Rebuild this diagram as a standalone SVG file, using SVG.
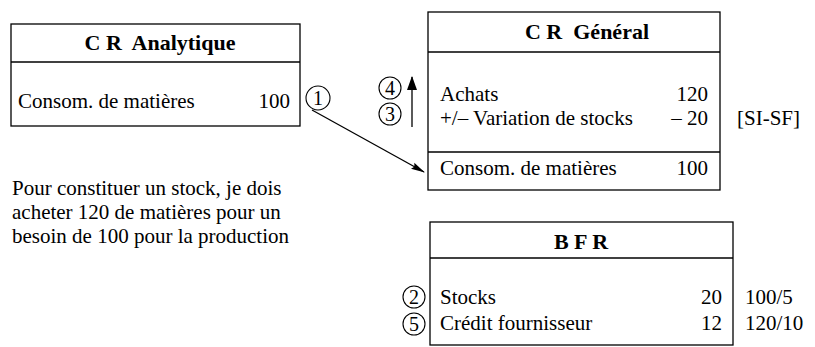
<svg xmlns="http://www.w3.org/2000/svg" width="815" height="347" viewBox="0 0 815 347">
  <style>
    text { font-family: "Liberation Serif", "Times New Roman", serif; fill: #000; }
    .t { font-size: 21px; }
    .p { font-size: 21px; }
    .h { font-size: 22px; font-weight: bold; text-anchor: middle; }
    .n { font-size: 21px; text-anchor: end; }
    .c { font-size: 20px; text-anchor: middle; }
    .box { fill: none; stroke: #000; stroke-width: 1.3; }
    .ring { fill: #fff; stroke: #000; stroke-width: 1.1; }
    .link { fill: none; stroke: #000; stroke-width: 1.3; }
  </style>
  <defs>
    <marker id="head" viewBox="0 0 14 8" refX="13" refY="4" markerWidth="14" markerHeight="8" markerUnits="userSpaceOnUse" orient="auto">
      <path d="M0,0.5 L14,4 L0,7.5 L2,4 Z" fill="#000"/>
    </marker>
    <marker id="headUp" viewBox="0 0 14 10" refX="13" refY="5" markerWidth="14" markerHeight="10" markerUnits="userSpaceOnUse" orient="auto">
      <path d="M0,0 L14,5 L0,10 Z" fill="#000"/>
    </marker>
  </defs>
  <rect width="815" height="347" fill="#fff"/>

  <!-- Analytical income statement -->
  <g id="cr-analytique">
    <rect class="box" x="11" y="24" width="289" height="102"/>
    <line class="box" x1="11" y1="62" x2="300" y2="62"/>
    <text class="h" x="160" y="50" xml:space="preserve">C R  Analytique</text>
    <text class="t" x="18" y="108">Consom. de matières</text>
    <text class="n" x="290" y="108">100</text>
  </g>

  <!-- General income statement -->
  <g id="cr-general">
    <rect class="box" x="428" y="12" width="292" height="178"/>
    <line class="box" x1="428" y1="52" x2="720" y2="52"/>
    <line class="box" x1="428" y1="152" x2="720" y2="152"/>
    <text class="h" x="587" y="39" xml:space="preserve">C R  Général</text>
    <text class="t" x="440" y="101">Achats</text>
    <text class="n" x="708" y="101">120</text>
    <text class="t" x="440" y="125">+/– Variation de stocks</text>
    <text class="n" x="708" y="125">– 20</text>
    <text class="t" x="737" y="125">[SI-SF]</text>
    <text class="t" x="440" y="175">Consom. de matières</text>
    <text class="n" x="708" y="175">100</text>
  </g>

  <!-- Working capital requirement -->
  <g id="bfr">
    <rect class="box" x="430" y="222" width="303" height="123"/>
    <line class="box" x1="430" y1="258" x2="733" y2="258"/>
    <text class="h" x="581" y="249">B F R</text>
    <text class="t" x="440" y="304">Stocks</text>
    <text class="n" x="722" y="304">20</text>
    <text class="t" x="745" y="304">100/5</text>
    <text class="t" x="440" y="330">Crédit fournisseur</text>
    <text class="n" x="722" y="330">12</text>
    <text class="t" x="745" y="330">120/10</text>
  </g>

  <!-- Explanation -->
  <g id="note">
    <text class="p" x="12" y="195">Pour constituer un stock, je dois</text>
    <text class="p" x="12" y="219">acheter 120 de matières pour un</text>
    <text class="p" x="12" y="243">besoin de 100 pour la production</text>
  </g>

  <!-- Step markers -->
  <g id="steps">
    <circle class="ring" cx="318" cy="98" r="12"/>
    <text class="c" x="318" y="105">1</text>
    <circle class="ring" cx="390" cy="88" r="11"/>
    <text class="c" x="390" y="95">4</text>
    <circle class="ring" cx="390" cy="114" r="11"/>
    <text class="c" x="390" y="121">3</text>
    <circle class="ring" cx="414" cy="297" r="11"/>
    <text class="c" x="414" y="304">2</text>
    <circle class="ring" cx="414" cy="324" r="11"/>
    <text class="c" x="414" y="331">5</text>
  </g>

  <!-- Connectors -->
  <g id="connectors">
    <line class="link" x1="312" y1="110" x2="424" y2="172" marker-end="url(#head)"/>
    <line class="link" x1="412" y1="127" x2="412" y2="77" stroke-width="1.6" marker-end="url(#headUp)"/>
  </g>
</svg>
